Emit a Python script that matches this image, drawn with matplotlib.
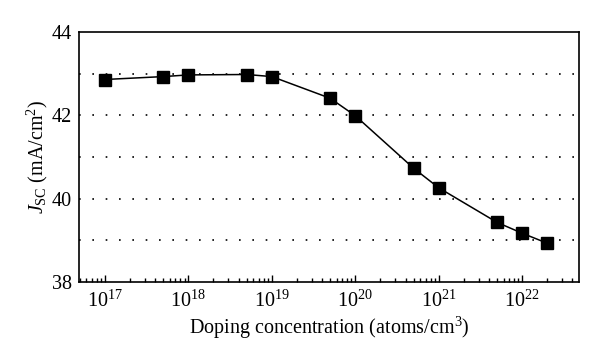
import matplotlib
matplotlib.use("Agg")
import matplotlib.pyplot as plt
from matplotlib.ticker import LogLocator, NullFormatter

plt.rcParams['font.family'] = ['Liberation Serif', 'DejaVu Serif']
plt.rcParams['mathtext.fontset'] = 'custom'
plt.rcParams['mathtext.rm'] = 'Liberation Serif'
plt.rcParams['mathtext.it'] = 'Liberation Serif:italic'

doping = [1e17, 5e17, 1e18, 5e18, 1e19, 5e19, 1e20, 5e20, 1e21, 5e21, 1e22, 2e22]
jsc = [42.86, 42.93, 42.97, 42.98, 42.93, 42.41, 41.99, 40.73, 40.26, 39.43, 39.17, 38.93]
y_ticks = [38, 40, 42, 44]
grid_levels = [39, 40, 41, 42, 43]

fig = plt.figure(figsize=(6.0, 3.62), dpi=100)
ax = fig.add_axes([79/600, 1-282/362, (579-79)/600, (282-32)/362])

for g in grid_levels:
    ax.axhline(g, color='black', lw=1.2, linestyle=(0, (1, 7)), zorder=1)

ax.plot(doping, jsc, color='black', lw=1.1, marker='s', markersize=9,
        markerfacecolor='black', markeredgecolor='black', zorder=3)

ax.set_xscale('log')
ax.set_xlim(10**16.69, 10**22.68)
ax.set_ylim(38, 44)
ax.set_yticks(y_ticks)
ax.yaxis.set_tick_params(length=0, labelsize=14.5, pad=5)
ax.xaxis.set_major_locator(LogLocator(base=10, numticks=20))
ax.xaxis.set_minor_locator(LogLocator(base=10, subs=range(2, 10), numticks=100))
ax.xaxis.set_minor_formatter(NullFormatter())
ax.tick_params(axis='x', which='major', direction='in', length=5, width=1, labelsize=14.5, pad=6)
ax.tick_params(axis='x', which='minor', direction='in', length=3, width=1)
for s in ax.spines.values():
    s.set_linewidth(1.2)

ax.set_xlabel('Doping concentration (atoms/cm$^3$)', fontsize=14.5, labelpad=2)
ax.set_ylabel('$J_{\\mathrm{SC}}$ (mA/cm$^2$)', fontsize=14.5, labelpad=1)

fig.savefig('out.png', dpi=100)
